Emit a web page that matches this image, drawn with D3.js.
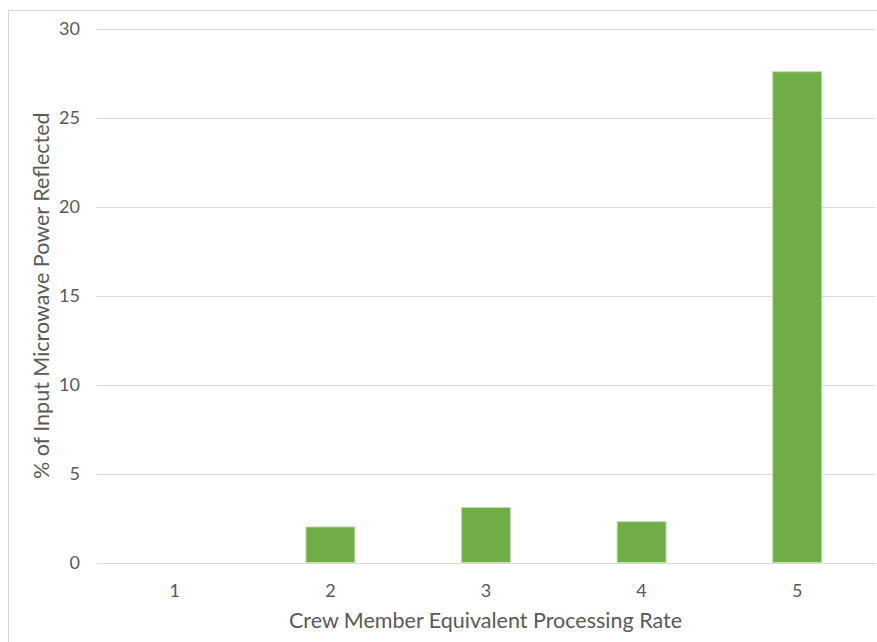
<!DOCTYPE html>
<html><head><meta charset="utf-8">
<script src="https://cdn.jsdelivr.net/npm/d3@7"></script>
<style>body{margin:0;background:#fff;} svg{display:block;font-family:Lato,"Open Sans",sans-serif;}</style>
</head><body>
<svg id="chart" width="877" height="642"></svg>
<script>
const categories = ["1","2","3","4","5"];
const values = [0, 2.0, 3.1, 2.3, 27.6];
const yTicks = [0,5,10,15,20,25,30];
const xTitle = "Crew Member Equivalent Processing Rate";
const yTitle = "% of Input Microwave Power Reflected";

const svg = d3.select("#chart");
const W = 877, H = 642;
const plotLeft = 97, plotRight = 875, plotTop = 29, plotBottom = 562.5;

// chart border
svg.append("rect").attr("x",8.5).attr("y",10.5).attr("width",W+10).attr("height",H+10)
  .attr("fill","#fff").attr("stroke","#d9d9d9").attr("stroke-width",1);

const x = d3.scaleBand().domain(categories).range([plotLeft,plotRight]).paddingInner(0.685).paddingOuter(0.3425);
const y = d3.scaleLinear().domain([0,30]).range([plotBottom,plotTop]);

// gridlines
svg.append("g").selectAll("line").data(yTicks).join("line")
  .attr("x1",plotLeft).attr("x2",plotRight)
  .attr("y1",d=>Math.round(y(d))+0.5).attr("y2",d=>Math.round(y(d))+0.5)
  .attr("stroke","#d9d9d9").attr("stroke-width",1);

// y tick labels
svg.append("g").selectAll("text").data(yTicks).join("text")
  .attr("x",80).attr("y",d=>y(d)).attr("dy","0.35em")
  .attr("text-anchor","end").attr("fill","#595959").attr("font-size",18)
  .text(d=>d);

// bars
svg.append("g").selectAll("rect").data(values).join("rect")
  .attr("x",(d,i)=>x(categories[i]))
  .attr("width",x.bandwidth())
  .attr("y",d=>y(d)).attr("height",d=>y(0)-y(d))
  .attr("fill",d=>d>0?"#70ad47":"none")
  .attr("stroke",d=>d>0?"#c5e0b4":"none").attr("stroke-width",1);

// x tick labels
svg.append("g").selectAll("text").data(categories).join("text")
  .attr("x",d=>x(d)+x.bandwidth()/2).attr("y",597)
  .attr("text-anchor","middle").attr("fill","#595959").attr("font-size",18)
  .text(d=>d);

// axis titles
svg.append("text").attr("x",(plotLeft+plotRight)/2 - 0.5).attr("y",628)
  .attr("text-anchor","middle").attr("fill","#595959").attr("font-size",21.5)
  .text(xTitle);
svg.append("text").attr("transform",`translate(49,${(plotTop+plotBottom)/2}) rotate(-90)`)
  .attr("text-anchor","middle").attr("fill","#595959").attr("font-size",21.5)
  .text(yTitle);
</script>
</body></html>
